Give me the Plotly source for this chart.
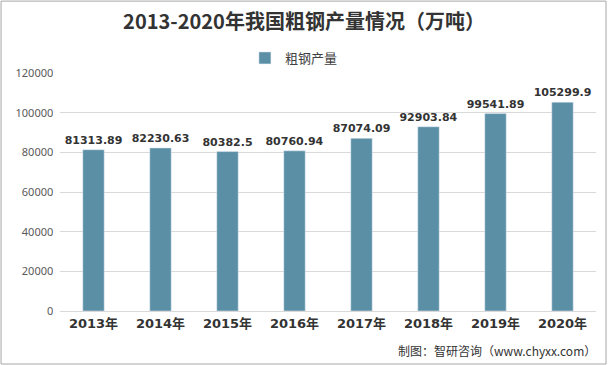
import plotly.graph_objects as go

years = ["2013年", "2014年", "2015年", "2016年", "2017年", "2018年", "2019年", "2020年"]
values = [81313.89, 82230.63, 80382.5, 80760.94, 87074.09, 92903.84, 99541.89, 105299.9]
labels = ["81313.89", "82230.63", "80382.5", "80760.94", "87074.09", "92903.84", "99541.89", "105299.9"]

fig = go.Figure()
fig.add_trace(go.Bar(
    x=years, y=values, name="粗钢产量",
    marker=dict(color="#5B8FA6"),
    width=0.32,
    text=labels, textposition="outside",
    constraintext="none",
    textfont=dict(family="DejaVu Sans, Noto Sans CJK SC", size=11, color="#333333"),
    texttemplate="<b>%{text}</b>",
    cliponaxis=False,
))

fig.update_layout(
    width=608, height=365,
    margin=dict(l=60, r=12, t=73, b=54),
    paper_bgcolor="white", plot_bgcolor="white",
    title=dict(text="<b>2013-2020年我国粗钢产量情况（万吨）</b>", x=0.5, xanchor="center",
               y=0.94, yanchor="middle",
               font=dict(family="Noto Sans CJK SC", size=20, color="#333333")),
    showlegend=True,
    legend=dict(orientation="h", x=0.345, xanchor="left", y=1.063, yanchor="middle",
                font=dict(family="Noto Sans CJK SC", size=13, color="#404040"),
                itemwidth=30),
    xaxis=dict(showline=True, linecolor="#D9D9D9", ticks="",
               tickfont=dict(family="DejaVu Sans, Noto Sans CJK SC", size=13, color="#333333"),
               tickprefix="<b>", ticksuffix="</b>"),
    yaxis=dict(range=[0, 120000], dtick=20000, gridcolor="#D9D9D9", zeroline=False,
               tickfont=dict(family="Noto Sans", size=11, color="#595959"),
               tickformat="d", ticksuffix="  "),
    shapes=[dict(type="rect", xref="paper", yref="paper", x0=-0.110, y0=-0.2227, x1=1.0187, y1=1.302,
                 line=dict(color="#A6A6A6", width=1))],
    annotations=[dict(text="制图：智研咨询（www.chyxx.com）", xref="paper", yref="paper",
                      x=1.0037, y=-0.164, xanchor="right", yanchor="middle", showarrow=False,
                      font=dict(family="Noto Sans CJK SC", size=12, color="#333333"))],
)

fig.write_html("out.html", config={"displayModeBar": False},
               post_script="document.body.style.margin='0';document.body.style.overflow='hidden';")
